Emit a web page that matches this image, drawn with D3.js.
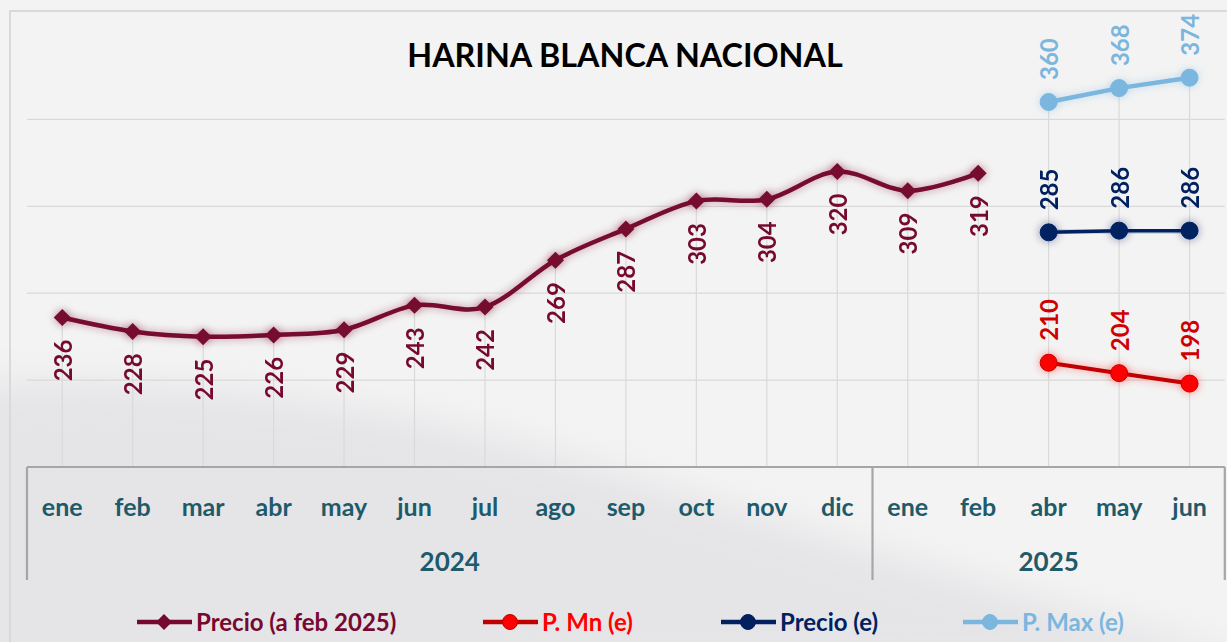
<!DOCTYPE html>
<html><head><meta charset="utf-8">
<script src="https://cdn.jsdelivr.net/npm/d3@7"></script>
<style>html,body{margin:0;padding:0;background:#f3f3f3;}svg{display:block;}</style>
</head><body>
<script>
const title = "HARINA BLANCA NACIONAL";
const months = ["ene","feb","mar","abr","may","jun","jul","ago","sep","oct","nov","dic","ene","feb","abr","may","jun"];
const yearLabels = ["2024","2025"];
const yearSpans = [12,5];
const precio   = [236,228,225,226,229,243,242,269,287,303,304,320,309,319,null,null,null];
const pMin     = [null,null,null,null,null,null,null,null,null,null,null,null,null,null,210,204,198];
const precioE  = [null,null,null,null,null,null,null,null,null,null,null,null,null,null,285,286,286];
const pMax     = [null,null,null,null,null,null,null,null,null,null,null,null,null,null,360,368,374];
const gridValues = [200,250,300,350];
const seriesNames = ["Precio (a feb 2025)","P. Mn (e)","Precio (e)","P. Max (e)"];

const W=1227,H=642;
const svg=d3.select("body").append("svg").attr("width",W).attr("height",H);
const defs=svg.append("defs");
const font="Lato, 'Open Sans', sans-serif";

// background
defs.append("filter").attr("id","bgblur").attr("x","-20%").attr("y","-20%").attr("width","140%").attr("height","140%")
  .append("feGaussianBlur").attr("stdDeviation",18);
svg.append("rect").attr("width",W).attr("height",H).attr("fill","#f3f3f3");
svg.append("path").attr("d","M-40,385 C150,370 380,400 560,455 C760,515 1000,590 1260,660 L-40,700 Z")
  .attr("fill","#e5e5e8").attr("filter","url(#bgblur)");
svg.append("rect").attr("x",10).attr("y",11).attr("width",1260).attr("height",700)
  .attr("fill","none").attr("stroke","#d9d9d9").attr("stroke-width",2);

function glow(id,color){
  const f=defs.append("filter").attr("id",id).attr("x","-50%").attr("y","-50%").attr("width","200%").attr("height","200%");
  f.append("feGaussianBlur").attr("in","SourceAlpha").attr("stdDeviation",4).attr("result","b");
  f.append("feFlood").attr("flood-color",color).attr("flood-opacity",0.45);
  f.append("feComposite").attr("in2","b").attr("operator","in").attr("result","g");
  const m=f.append("feMerge");m.append("feMergeNode").attr("in","g");m.append("feMergeNode").attr("in","SourceGraphic");
}

const x=d3.scaleBand().domain(d3.range(months.length)).range([27,1224.8]).padding(0);
const y=d3.scaleLinear().domain([150,400]).range([467,32.5]);
const cx=i=>x(i)+x.bandwidth()/2;

// gridlines
svg.append("g").selectAll("line").data(gridValues).join("line")
  .attr("x1",x.range()[0]).attr("x2",x.range()[1]).attr("y1",d=>y(d)).attr("y2",d=>y(d))
  .attr("stroke","#d9d9d9").attr("stroke-width",1.3);

// drop lines
const tops=months.map((m,i)=>d3.max([precio[i],pMin[i],precioE[i],pMax[i]].filter(v=>v!=null)));
svg.append("g").selectAll("line").data(tops).join("line")
  .attr("x1",(d,i)=>cx(i)).attr("x2",(d,i)=>cx(i)).attr("y1",d=>y(d)).attr("y2",y(150))
  .attr("stroke","#d9d9d9").attr("stroke-width",1.2);

// axis box
const ax=svg.append("g").attr("stroke","#a6a6a6").attr("stroke-width",2.2).attr("fill","none");
ax.append("line").attr("x1",x.range()[0]).attr("x2",x.range()[1]).attr("y1",y(150)).attr("y2",y(150));
let acc=0; const bounds=[0];
yearSpans.forEach(s=>{acc+=s;bounds.push(acc);});
bounds.forEach(b=>{
  const xx=b<months.length?x(b):x.range()[1];
  ax.append("line").attr("x1",xx).attr("x2",xx).attr("y1",y(150)).attr("y2",580);
});

const labCol="#1f5a6a";
svg.append("g").selectAll("text").data(months).join("text")
  .attr("x",(d,i)=>cx(i)).attr("y",516).attr("text-anchor","middle")
  .attr("font-family",font).attr("font-weight",700).attr("font-size",25).attr("fill",labCol).text(d=>d);
svg.append("g").selectAll("text").data(yearLabels).join("text")
  .attr("x",(d,i)=>{const a=x(bounds[i]);const b=bounds[i+1]<months.length?x(bounds[i+1]):x.range()[1];return (a+b)/2;})
  .attr("y",571).attr("text-anchor","middle")
  .attr("font-family",font).attr("font-weight",700).attr("font-size",26).attr("fill",labCol).text(d=>d);

// title
svg.append("text").attr("x",625).attr("y",67).attr("text-anchor","middle")
  .attr("font-family",font).attr("font-weight",700).attr("font-size",32.3).attr("fill","#000").text(title);

const series=[
  {name:seriesNames[0],vals:precio,line:"#76092f",mk:"#76092f",lab:"#76092f",leg:"#76092f",diamond:true,below:true,w:4.5},
  {name:seriesNames[1],vals:pMin,line:"#c00000",mk:"#ff0000",lab:"#d00000",leg:"#ff0000",w:4},
  {name:seriesNames[2],vals:precioE,line:"#002060",mk:"#002060",lab:"#002060",leg:"#002060",w:3.5},
  {name:seriesNames[3],vals:pMax,line:"#7ab6de",mk:"#7ab6de",lab:"#7ab6de",leg:"#7ab6de",w:4.5}
];
const diamondPath=r=>`M0,${-r}L${r},0L0,${r}L${-r},0Z`;

series.forEach((s,k)=>{
  glow("glow"+k,s.mk);
  const pts=s.vals.map((v,i)=>({i,v})).filter(p=>p.v!=null);
  const g=svg.append("g");
  const lg=d3.line().x(p=>cx(p.i)).y(p=>y(p.v));
  if(s.diamond) lg.curve(d3.curveCatmullRom.alpha(0));
  g.append("path").attr("d",lg(pts)).attr("fill","none").attr("stroke",s.line).attr("stroke-width",s.w)
    .attr("stroke-linejoin","round").attr("filter","url(#glow"+k+")");
  const mg=g.append("g").attr("filter","url(#glow"+k+")");
  if(s.diamond){
    mg.selectAll("path").data(pts).join("path").attr("d",diamondPath(8.5))
      .attr("transform",p=>`translate(${cx(p.i)},${y(p.v)})`).attr("fill",s.mk);
  } else {
    mg.selectAll("circle").data(pts).join("circle").attr("cx",p=>cx(p.i)).attr("cy",p=>y(p.v)).attr("r",8.5)
      .attr("fill",s.mk).attr("stroke",s.line).attr("stroke-width",1);
  }
  g.append("g").selectAll("text").data(pts).join("text")
    .attr("transform",p=>`translate(${cx(p.i)},${s.below?y(p.v)+22:y(p.v)-22}) rotate(-90)`)
    .attr("text-anchor",s.below?"end":"start").attr("dominant-baseline","central")
    .attr("font-family",font).attr("font-weight",700).attr("font-size",24).attr("fill",s.lab)
    .text(p=>p.v);
});

// legend
const legX=[137,483,721,963];
const lgd=svg.append("g");
series.forEach((s,k)=>{
  const g=lgd.append("g").attr("transform",`translate(${legX[k]},622)`);
  g.append("line").attr("x1",0).attr("x2",55).attr("stroke",s.line).attr("stroke-width",4.5);
  if(s.diamond) g.append("path").attr("d",diamondPath(8)).attr("transform","translate(27,0)").attr("fill",s.mk);
  else g.append("circle").attr("cx",27).attr("r",7.5).attr("fill",s.mk).attr("stroke",s.line).attr("stroke-width",1);
  g.append("text").attr("x",59).attr("y",8.5).attr("font-family",font).attr("font-weight",700)
    .attr("font-size",24).attr("fill",s.leg).text(s.name);
});
</script>
</body></html>
